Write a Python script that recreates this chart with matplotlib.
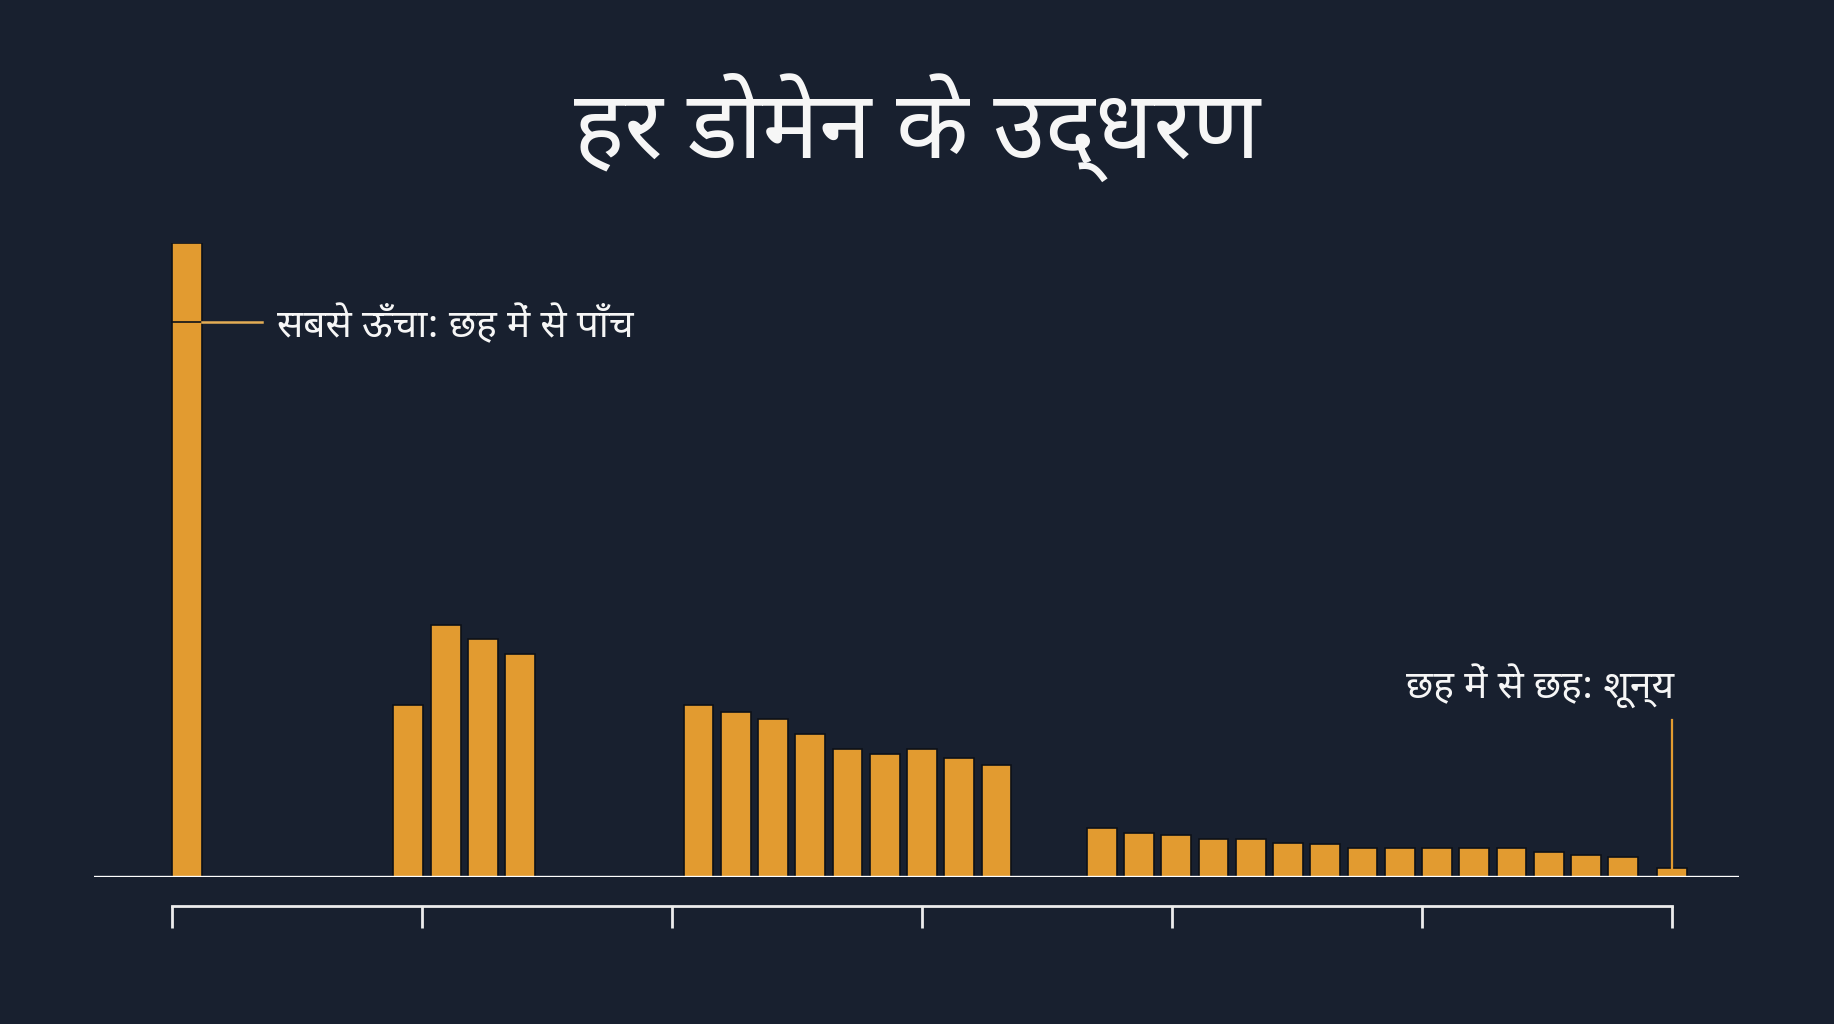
import matplotlib
matplotlib.use("Agg")
import matplotlib.pyplot as plt
import numpy as np

# डेटा: हर डोमेन के उद्धरण (सबसे ऊँचा = 100)
group_values = [
    [100.0],
    [27.1, 39.8, 37.5, 35.1],
    [27.1, 26.0, 24.9, 22.5, 20.2, 19.4, 20.2, 18.7, 17.7],
    [7.7, 6.9, 6.6, 6.0, 6.0, 5.3, 5.2, 4.6, 4.6, 4.6, 4.6, 4.6, 3.9, 3.5, 3.1],
    [1.4],
]
title = "हर डोमेन के उद्धरण"
label_top = "सबसे ऊँचा: छह में से पाँच"
label_zero = "छह में से छह: शून्य"

# layout: gaps before each group, in bar slots
group_gaps = [0, 4.94, 3.79, 1.83, 0.31]

bg = "#18202f"
bar_col = "#e29b30"
txt_col = "#f6f6f6"

plt.rcParams['font.family'] = ['Noto Sans Devanagari', 'Mukta', 'Hind', 'DejaVu Sans']

xs, vals = [], []
pos = 0.0
for gap, g in zip(group_gaps, group_values):
    pos += gap
    for v in g:
        xs.append(pos)
        vals.append(v)
        pos += 1
xs = np.array(xs)
vals = np.array(vals)

fig = plt.figure(figsize=(18.34, 10.24), dpi=100, facecolor=bg)
ax = fig.add_axes([0.0513, 0.1436, 0.8969, 0.6191], facecolor=bg)

w = 0.8
ax.bar(xs, vals, width=w, color=bar_col, edgecolor="#0d1119", linewidth=1.2, zorder=2)
ax.axhline(0, color="white", lw=2.4, zorder=3)

ax.set_xlim(xs[0] - 2.5, xs[-1] + 1.8)
ax.set_ylim(0, 100)

# bracket below the baseline
ticks = np.linspace(xs[0] - w / 2, xs[-1], 7)
for s in ["top", "right", "left"]:
    ax.spines[s].set_visible(False)
ax.spines["bottom"].set_position(("outward", 21))
ax.spines["bottom"].set_bounds(ticks[0], ticks[-1])
ax.spines["bottom"].set_color("#ececec")
ax.spines["bottom"].set_linewidth(2.0)
ax.set_xticks(ticks)
ax.set_xticklabels([])
ax.tick_params(axis="x", direction="out", length=16, width=2.0, color="#ececec")
ax.set_yticks([])

# annotation: tallest bar
ann_y = 87.5
ax.plot([xs[0] - w / 2, xs[0] + w / 2], [ann_y, ann_y], color="#0d1119", lw=1.2, zorder=4)
ax.plot([xs[0] + w / 2, xs[0] + 2.0], [ann_y, ann_y], color="#e3ad55", lw=1.8, zorder=4)
ax.text(xs[0] + 2.42, 85.2, label_top, color=txt_col, fontsize=28,
        ha="left", va="baseline")

# annotation: zero bar
ax.plot([xs[-1], xs[-1]], [vals[-1], 24.8], color=bar_col, lw=1.6, zorder=4)
ax.text(xs[-1] + 0.05, 28.2, label_zero, color=txt_col, fontsize=28,
        ha="right", va="baseline")

fig.text(0.5, 1 - 158 / 1024, title, color=txt_col, fontsize=68,
         fontweight="medium", ha="center", va="baseline")

fig.savefig("out.png", facecolor=bg)
